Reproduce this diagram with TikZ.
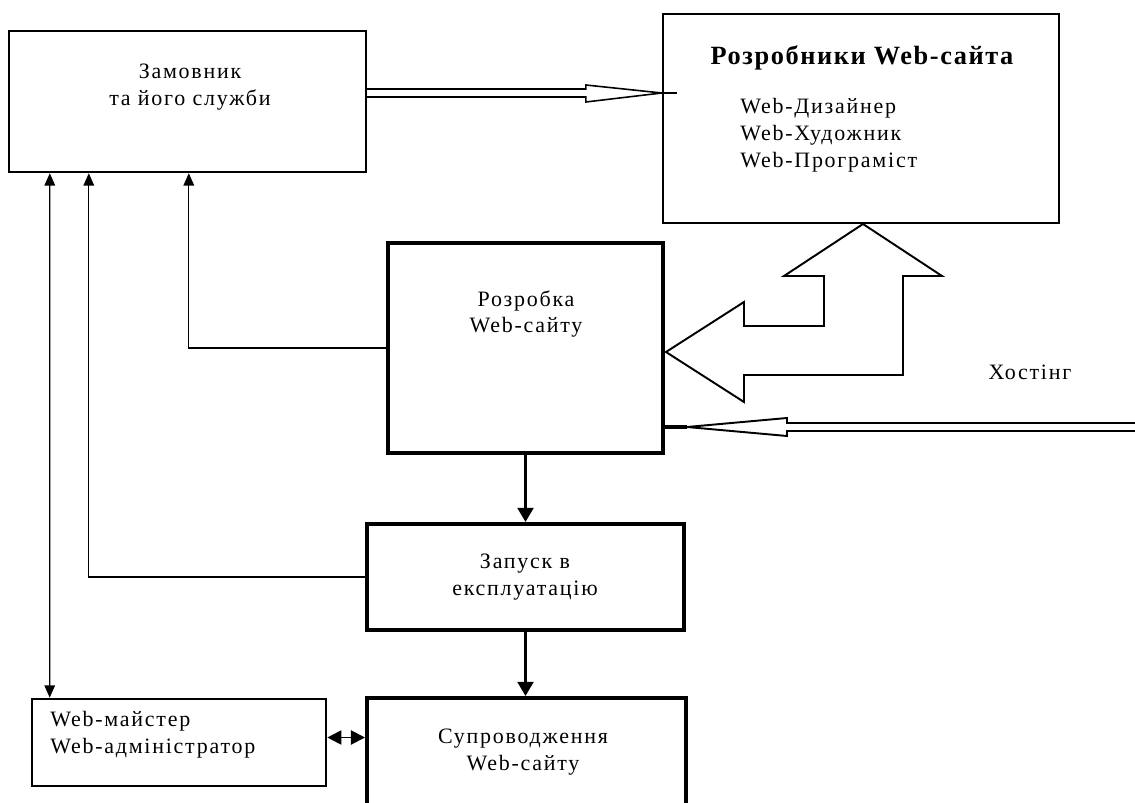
\documentclass[tikz,border=0pt]{standalone}
\usepackage{fontspec}
\setmainfont{Liberation Serif}[LetterSpace=8]
\newfontfamily\titlefont{Liberation Serif}[LetterSpace=6]
\usetikzlibrary{shapes,arrows.meta,calc,positioning}
\tikzset{
  thinbox/.style={draw, line width=1.4pt, inner sep=0pt},
  thickbox/.style={draw, line width=2.3pt, inner sep=0pt},
  txt/.style={align=center, inner sep=0pt, font=\fontsize{12.5}{15.3}\selectfont},
  feed/.style={line width=0.7pt, -{Triangle[width=6pt,length=7pt]}},
  flow/.style={line width=1.4pt, -{Triangle[width=9pt,length=8pt]}},
  hollow/.style={line width=0.9pt, line join=miter}
}

\begin{document}
\begin{tikzpicture}[x=0.02cm, y=-0.02cm]
    \clip (0,0) rectangle (1135,803);

    \node[thinbox, minimum width=7.14cm, minimum height=2.82cm] (zam) at (187.5,101.5) {};
    \node[thinbox, minimum width=7.92cm, minimum height=4.18cm] (rozr) at (861,118.5) {};
    \node[thickbox, minimum width=5.5cm, minimum height=4.2cm] (web) at (525.5,348) {};
    \node[thickbox, minimum width=6.34cm, minimum height=2.12cm] (zapusk) at (525.5,577) {};
    \node[thickbox, minimum width=6.38cm, minimum height=2.64cm] (suprov) at (526.5,764) {};
    \node[draw, line width=1.5pt, inner sep=0pt, minimum width=5.88cm, minimum height=1.74cm] (admin) at (179,742.5) {};

    \node[txt] (zamtxt) at (190,87) {Замовник\\та його служби};
    \node[txt, font={\titlefont\bfseries\fontsize{15}{18}\selectfont}] (rozrtitle) at (862,58) {Розробники Web-сайта};
    \node[txt, align=left, anchor=west] (rozrlist) at (740,135) {Web-Дизайнер\\Web-Художник\\Web-Програміст};
    \node[txt] (webtxt) at (526,314) {Розробка\\Web-сайту};
    \node[txt] (zapusktxt) at (525,577) {Запуск в\\експлуатацію};
    \node[txt] (suprovtxt) at (523,752) {Супроводження\\Web-сайту};
    \node[txt, align=left, anchor=west] (admintxt) at (50,735) {Web-майстер\\Web-адміністратор};
    \node[txt] (hosting) at (1030,372) {Хостінг};

    \draw[feed] (web.west) -| ($(zam.south west)+(181,0)$);
    \draw[feed] (zapusk.west) -| ($(zam.south west)+(81,0)$);
    \draw[feed, {Triangle[width=6pt,length=7pt]}-{Triangle[width=6pt,length=7pt]}] ($(zam.south west)+(42,0)$) -- ($(admin.north west)+(19,0)$);
    \draw[flow] (web.south) -- (zapusk.north);
    \draw[flow] (zapusk.south) -- (zapusk.south |- suprov.north);
    \draw[line width=1.1pt, {Triangle[width=8pt,length=8pt]}-{Triangle[width=8pt,length=8pt]}] ($(admin.east)+(0,-5)$) coordinate (dd) -- (dd -| suprov.west);

    \coordinate (atip) at ($(rozr.west)+(0,-25.5)$);
    \draw[hollow] ($(zam.east)+(0,-12.5)$) -- ($(atip)+(-76,-4)$) -- ++(0,-4) -- (atip)
      -- ($(atip)+(-76,9)$) -- ++(0,-5) -- ($(zam.east)+(0,-4.5)$);
    \draw[line width=0.6pt] (atip) -- ++(15,0);

    \coordinate (hostend) at (1140,427);
    \coordinate (htip) at ($(web.east)+(22,79)$);
    \draw[hollow, line width=1.1pt] ($(hostend)+(0,-4)$) -- ($(htip)+(100,-4)$) -- ++(0,-5) -- (htip)
      -- ($(htip)+(100,9)$) -- ++(0,-5) -- ($(hostend)+(0,4)$);
    \draw[line width=2.3pt] (htip) -- (web.east |- htip);

    \draw[hollow, line width=1.1pt] ($(web.east)+(1,4)$) -- ++(78,-50) -- ++(0,24) -- ++(80,0) -- ++(0,-50)
      -- ++(-40,0) -- ++(79,-52) -- ++(79,52) -- ++(-39,0) -- ++(0,99) -- ++(-159,0) -- ++(0,27) -- cycle;
\end{tikzpicture}
\end{document}
